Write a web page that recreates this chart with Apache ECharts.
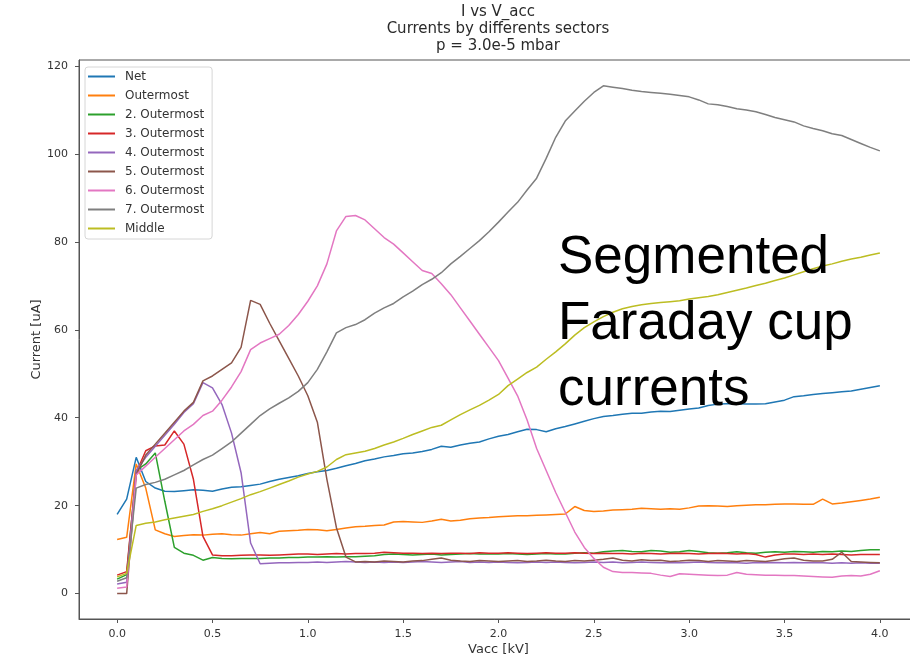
<!DOCTYPE html>
<html>
<head>
<meta charset="utf-8">
<script src="https://cdn.jsdelivr.net/npm/echarts@6/dist/echarts.min.js"></script>
<style>
  html, body { margin: 0; padding: 0; background: #fff; }
  #chart { width: 910px; height: 657px; }
</style>
</head>
<body>
<div id="chart"></div>
<script>
// Accelerating voltage [kV]
const vacc = [
  0.00, 0.05, 0.10, 0.15, 0.20, 0.25, 0.30, 0.35, 0.40, 0.45,
  0.50, 0.55, 0.60, 0.65, 0.70, 0.75, 0.80, 0.85, 0.90, 0.95,
  1.00, 1.05, 1.10, 1.15, 1.20, 1.25, 1.30, 1.35, 1.40, 1.45,
  1.50, 1.55, 1.60, 1.65, 1.70, 1.75, 1.80, 1.85, 1.90, 1.95,
  2.00, 2.05, 2.10, 2.15, 2.20, 2.25, 2.30, 2.35, 2.40, 2.45,
  2.50, 2.55, 2.60, 2.65, 2.70, 2.75, 2.80, 2.85, 2.90, 2.95,
  3.00, 3.05, 3.10, 3.15, 3.20, 3.25, 3.30, 3.35, 3.40, 3.45,
  3.50, 3.55, 3.60, 3.65, 3.70, 3.75, 3.80, 3.85, 3.90, 3.95, 4.00
];

// Currents [uA] per sector
const net = [
  18, 21.5, 31, 25.5, 24, 23.3, 23.2, 23.4, 23.6, 23.5,
  23.3, 23.8, 24.2, 24.3, 24.6, 24.9, 25.5, 26, 26.4, 26.8,
  27.3, 27.7, 28, 28.5, 29.1, 29.6, 30.2, 30.6, 31.1, 31.4,
  31.8, 32, 32.3, 32.8, 33.5, 33.3, 33.8, 34.2, 34.5, 35.2,
  35.8, 36.2, 36.8, 37.4, 37.3, 36.8, 37.5, 38, 38.6, 39.2,
  39.8, 40.3, 40.5, 40.8, 41, 41, 41.3, 41.5, 41.4, 41.7,
  42, 42.2, 42.8, 43.1, 43.2, 43.2, 43.1, 43.1, 43.2, 43.6,
  44, 44.8, 45, 45.3, 45.5, 45.7, 45.9, 46.1, 46.5, 46.9, 47.3
];
const outermost = [
  12.3, 12.8, 29.5, 24, 14.5, 13.6, 13, 13.2, 13.4, 13.3,
  13.5, 13.6, 13.4, 13.3, 13.6, 13.9, 13.6, 14.2, 14.3, 14.4,
  14.6, 14.5, 14.3, 14.6, 14.9, 15.2, 15.3, 15.5, 15.6, 16.3,
  16.4, 16.3, 16.2, 16.5, 16.9, 16.5, 16.7, 17, 17.2, 17.3,
  17.5, 17.6, 17.7, 17.7, 17.8, 17.9, 18, 18.1, 19.8, 18.9,
  18.7, 18.8, 19, 19.1, 19.2, 19.4, 19.3, 19.2, 19.3, 19.2,
  19.5, 19.9, 20, 19.9, 19.8, 20, 20.1, 20.2, 20.2, 20.3,
  20.4, 20.4, 20.3, 20.3, 21.5, 20.4, 20.6, 20.9, 21.2, 21.5, 21.9
];
const outer2 = [
  3.3, 4.3, 28, 29.5, 32, 21, 10.5, 9.2, 8.7, 7.6,
  8.2, 8, 7.9, 8, 8, 8, 8.1, 8.1, 8.2, 8.2,
  8.3, 8.3, 8.4, 8.3, 8.4, 8.4, 8.5, 8.6, 8.9, 9,
  8.9, 8.8, 8.9, 9, 8.8, 8.9, 9, 9.1, 9, 9,
  9, 9.1, 9, 8.9, 9, 9.1, 9, 9, 9.2, 9.3,
  9.2, 9.5, 9.7, 9.8, 9.6, 9.5, 9.8, 9.7, 9.4, 9.5,
  9.8, 9.6, 9.3, 9.2, 9.3, 9.5, 9.3, 9.2, 9.4, 9.5,
  9.4, 9.6, 9.5, 9.4, 9.6, 9.5, 9.7, 9.6, 9.8, 10, 10
];
const outer3 = [
  4.2, 5, 27.5, 32.5, 33.6, 33.8, 37, 34, 26, 13,
  8.8, 8.6, 8.6, 8.7, 8.8, 8.8, 8.7, 8.8, 8.9, 9,
  9, 8.9, 9, 9.1, 9, 9.1, 9.1, 9.2, 9.4, 9.3,
  9.2, 9.2, 9.1, 9.2, 9.1, 9.2, 9.2, 9.1, 9.3, 9.2,
  9.2, 9.3, 9.2, 9.1, 9.2, 9.3, 9.2, 9.2, 9.3, 9.2,
  9.1, 9.2, 9.1, 9.1, 9, 9.2, 9.1, 9, 9.1, 9.2,
  9.1, 9, 9.1, 9.2, 9.1, 9, 9.1, 8.9, 8.3, 8.8,
  9, 9, 8.9, 9, 8.9, 9, 8.9, 8.8, 8.9, 8.9, 8.9
];
const outer4 = [
  2.2, 2.6, 28, 31, 33.5, 36, 38.5, 41.2, 43.2, 48,
  46.8, 43, 36.5, 27.5, 11.5, 6.8, 6.9, 7, 7, 7.1,
  7.1, 7.2, 7.1, 7.2, 7.3, 7.2, 7.1, 7.2, 7.1, 7.2,
  7.1, 7.2, 7.3, 7.2, 7.1, 7.2, 7.3, 7.1, 7.2, 7.1,
  7.2, 7.1, 7.0, 7.1, 7.2, 7.1, 7.2, 7.1, 7.0, 7.1,
  7.2, 7.1, 7.2, 7.0, 7.1, 7.2, 7.1, 7.0, 7.1, 7.0,
  7.1, 7.2, 7.1, 7.0, 7.1, 7.0, 6.9, 7.1, 7.0, 7.1,
  7.0, 7.1, 7.0, 7.1, 7.0, 6.9, 7.0, 6.9, 7.0, 6.9, 6.9
];
const outer5 = [
  0, 0, 27, 31.5, 34, 36.5, 39, 41.5, 43.5, 48.4,
  49.5, 51, 52.5, 56, 66.7, 65.8, 61.5, 57.5, 53.5, 49.5,
  45, 39, 26, 15, 8.3, 7.2, 7.3, 7.2, 7.4, 7.3,
  7.2, 7.4, 7.5, 7.8, 8.1, 7.6, 7.4, 7.3, 7.5, 7.4,
  7.3, 7.4, 7.5, 7.3, 7.4, 7.6, 7.4, 7.3, 7.5, 7.4,
  7.6, 7.8, 8.1, 7.6, 7.4, 7.7, 7.5, 7.6, 7.3, 7.4,
  7.6, 7.5, 7.3, 7.5, 7.4, 7.3, 7.5, 7.4, 7.3, 7.6,
  7.9, 8.1, 7.6, 7.4, 7.4, 7.8, 9.4, 7.3, 7.2, 7.1, 7.0
];
const outer6 = [
  1.2, 1.5, 27, 29, 31, 33, 35, 37, 38.5, 40.5,
  41.5, 44, 47, 50.5, 55.5, 57, 58, 59, 61, 63.5,
  66.5, 70, 75, 82.5, 85.8, 86, 85, 83, 81, 79.5,
  77.5, 75.5, 73.5, 72.8, 70.5, 68, 65, 62, 59, 56,
  53, 49, 45, 39.5, 33, 28, 23, 18.5, 14, 10.5,
  8, 6, 5, 4.8, 4.8, 4.7, 4.6, 4.2, 3.9, 4.5,
  4.4, 4.3, 4.2, 4.1, 4.2, 4.8, 4.4, 4.3, 4.2, 4.2,
  4.1, 4.1, 4.0, 3.9, 3.8, 3.7, 4.0, 4.1, 4.0, 4.4, 5.2
];
const outer7 = [
  2.8, 3.6, 24, 24.8, 25.3, 26, 27, 28, 29.3, 30.5,
  31.5, 33, 34.5, 36.5, 38.5, 40.5, 42, 43.3, 44.5, 46,
  48, 51, 55, 59.3, 60.5, 61.2, 62.3, 63.8, 65, 66,
  67.5, 68.8, 70.3, 71.5, 73, 75, 76.7, 78.5, 80.3, 82.3,
  84.5, 86.8, 89, 91.8, 94.5, 99, 103.8, 107.5, 109.8, 112,
  114, 115.5, 115.2, 114.9, 114.5, 114.2, 114, 113.8, 113.6, 113.3,
  113, 112.3, 111.4, 111.2, 110.8, 110.3, 110, 109.6, 109, 108.3,
  107.8, 107.3, 106.4, 105.8, 105.3, 104.6, 104.2, 103.3, 102.4, 101.5, 100.7
];
const middle = [
  3.8, 4.6, 15.5, 16, 16.3, 16.8, 17.2, 17.6, 18, 18.7,
  19.3, 20, 20.8, 21.6, 22.5, 23.2, 24, 24.8, 25.6, 26.5,
  27.2, 27.8, 28.8, 30.5, 31.6, 32, 32.4, 33, 33.8, 34.5,
  35.3, 36.2, 37, 37.8, 38.3, 39.5, 40.7, 41.8, 42.8, 44,
  45.3, 47.3, 48.8, 50.3, 51.5, 53.3, 55, 56.8, 58.8, 60.5,
  61.8, 63, 64, 64.8, 65.3, 65.7, 66, 66.2, 66.4, 66.6,
  67, 67.3, 67.6, 68, 68.5, 69, 69.5, 70.1, 70.6, 71.2,
  71.8, 72.5, 73.2, 73.9, 74.5, 75, 75.6, 76.1, 76.5, 77, 77.5
];

const seriesNames = [
  'Net', 'Outermost', '2. Outermost', '3. Outermost', '4. Outermost',
  '5. Outermost', '6. Outermost', '7. Outermost', 'Middle'
];
const seriesValues = [net, outermost, outer2, outer3, outer4, outer5, outer6, outer7, middle];
const palette = [
  '#1f77b4', '#ff7f0e', '#2ca02c', '#d62728', '#9467bd',
  '#8c564b', '#e377c2', '#7f7f7f', '#bcbd22'
];

const xTicks = [0, 0.5, 1, 1.5, 2, 2.5, 3, 3.5, 4];
const yTicks = [0, 20, 40, 60, 80, 100, 120];

const FONT = '"DejaVu Sans", Verdana, sans-serif';
const TEXT = '#333';
const AXIS = '#555';

const chart = echarts.init(document.getElementById('chart'), null, { renderer: 'canvas' });

chart.setOption({
  animation: false,
  backgroundColor: '#fff',
  color: palette,
  title: {
    text: 'I vs V_acc\nCurrents by differents sectors\np = 3.0e-5 mbar',
    left: 498,
    textAlign: 'center',
    top: 4,
    padding: 0,
    textStyle: { fontFamily: FONT, fontSize: 15, fontWeight: 'normal', color: '#2a2a2a', lineHeight: 17 }
  },
  legend: {
    orient: 'vertical',
    left: 85,
    top: 67,
    padding: [0, 8, 1, 3],
    itemGap: 0,
    itemWidth: 27,
    itemHeight: 2,
    icon: 'rect',
    backgroundColor: 'rgba(255,255,255,0.8)',
    borderColor: '#d6d6d6',
    borderWidth: 1,
    borderRadius: 3,
    textStyle: { fontFamily: FONT, fontSize: 12, color: TEXT, lineHeight: 19, padding: [0, 0, 0, 5] },
    data: seriesNames
  },
  grid: {
    left: 79,
    top: 60,
    width: 839,
    height: 559,
    outerBoundsMode: 'none',
    containLabel: false,
    show: true,
    borderColor: AXIS,
    borderWidth: 1,
    backgroundColor: 'transparent'
  },
  xAxis: {
    type: 'value',
    min: -0.2,
    max: 4.2,
    name: 'Vacc [kV]',
    nameLocation: 'middle',
    nameGap: 24,
    nameMoveOverlap: false,
    nameTextStyle: { fontFamily: FONT, fontSize: 13, color: TEXT },
    axisLine: { show: true, onZero: false, lineStyle: { color: AXIS, width: 1 } },
    axisTick: { show: true, length: 4, customValues: xTicks, lineStyle: { color: AXIS } },
    axisLabel: {
      customValues: xTicks, margin: 10, fontFamily: FONT, fontSize: 11, color: TEXT,
      formatter: v => v.toFixed(1)
    },
    splitLine: { show: false }
  },
  yAxis: {
    type: 'value',
    min: -5.78,
    max: 121.38,
    name: 'Current [uA]',
    nameLocation: 'middle',
    nameGap: 36,
    nameMoveOverlap: false,
    nameTextStyle: { fontFamily: FONT, fontSize: 13, color: TEXT },
    axisLine: { show: true, onZero: false, lineStyle: { color: AXIS, width: 1 } },
    axisTick: { show: true, length: 4, customValues: yTicks, lineStyle: { color: AXIS } },
    axisLabel: { customValues: yTicks, margin: 11, fontFamily: FONT, fontSize: 11, color: TEXT },
    splitLine: { show: false }
  },
  series: seriesNames.map((name, k) => ({
    name,
    type: 'line',
    symbol: 'none',
    lineStyle: { width: 1.5, color: palette[k] },
    itemStyle: { color: palette[k] },
    data: vacc.map((x, i) => [x, seriesValues[k][i]])
  })),
  graphic: [{
    type: 'text',
    left: 558,
    top: 225,
    z: 100,
    style: {
      text: 'Segmented\nFaraday cup\ncurrents',
      font: '53px "Liberation Sans", Arial, sans-serif',
      fill: '#000',
      lineHeight: 66
    }
  }]
});
</script>
</body>
</html>
